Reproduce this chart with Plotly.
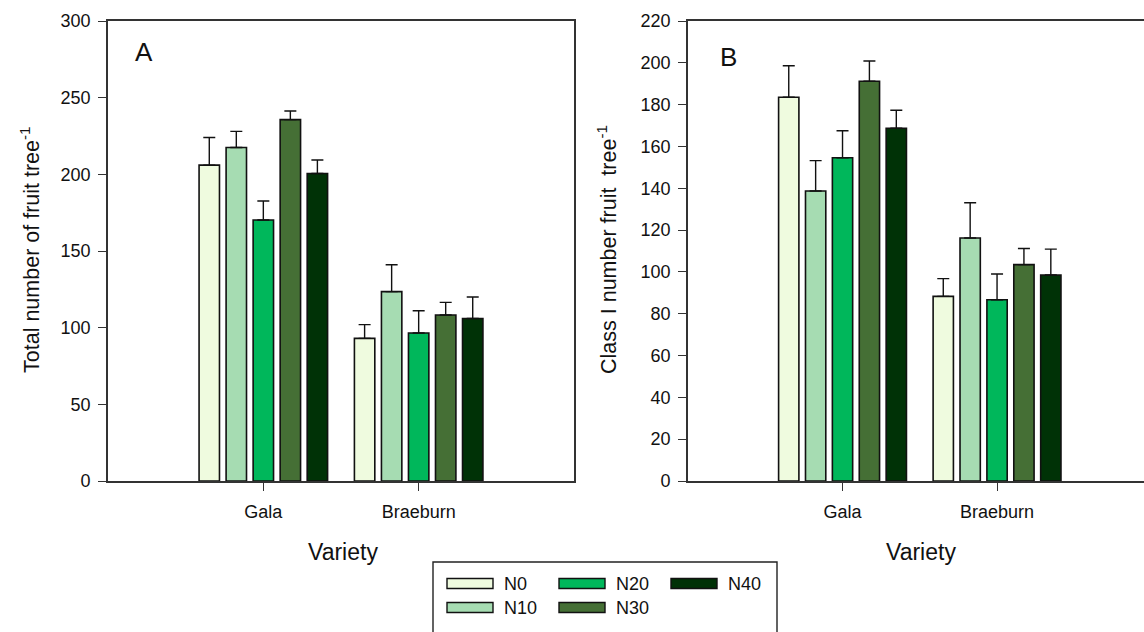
import plotly.graph_objects as go

# ---------------- data ----------------
varieties = ["Gala", "Braeburn"]
levels = ["N0", "N10", "N20", "N30", "N40"]
colors = ["#effbdf", "#a6dcb2", "#00b75b", "#456f35", "#003206"]

# Panel A: total number of fruit per tree (mean, SE) for N0..N40
total_gala = [206, 217.5, 170.2, 235.7, 200.5]
total_gala_se = [18, 10.5, 12.4, 5.6, 8.8]
total_braeburn = [93, 123.5, 96.5, 108.3, 106]
total_braeburn_se = [9, 17.5, 14.5, 8.2, 14]

# Panel B: class I fruit number per tree (mean, SE)
class1_gala = [183.5, 138.7, 154.6, 191.2, 168.7]
class1_gala_se = [15.1, 14.5, 12.9, 9.7, 8.6]
class1_braeburn = [88.3, 116.2, 86.7, 103.5, 98.5]
class1_braeburn_se = [8.5, 16.9, 12.3, 7.7, 12.4]

W, H = 1144, 632
FONT = "Liberation Sans, Arial, sans-serif"


def px(x):
    return x / W


def py(y):
    return 1 - y / H


fig = go.Figure()

panels = [
    ("x", "y", total_gala, total_gala_se, total_braeburn, total_braeburn_se),
    ("x2", "y2", class1_gala, class1_gala_se, class1_braeburn, class1_braeburn_se),
]
for xa, ya, g, gse, b, bse in panels:
    for i, lev in enumerate(levels):
        fig.add_trace(go.Bar(
            x=varieties,
            y=[g[i], b[i]],
            name=lev,
            xaxis=xa, yaxis=ya,
            marker=dict(color=colors[i], line=dict(color="#111111", width=1.6)),
            error_y=dict(type="data", symmetric=False,
                         array=[gse[i], bse[i]], arrayminus=[0, 0],
                         color="#111111", thickness=1.4, width=6),
            showlegend=False,
        ))

axis_common = dict(
    showline=True, linecolor="#333333", linewidth=1.6,
    showgrid=False, zeroline=False, automargin=False,
    ticks="outside", ticklen=8, tickwidth=1.4, tickcolor="#333333",
    tickfont=dict(family=FONT, size=18, color="#111111"),
)

fig.update_layout(
    width=W, height=H, autosize=False,
    margin=dict(l=0, r=0, t=0, b=0, pad=0, autoexpand=False),
    paper_bgcolor="white", plot_bgcolor="white",
    showlegend=False,
    barmode="group", bargap=0.13, bargroupgap=0.245,
    font=dict(family=FONT, color="#111111"),
    xaxis=dict(domain=[px(108), px(574)], anchor="y", type="category",
               range=[-1, 2], mirror=True, ticklabelstandoff=6, **axis_common),
    yaxis=dict(domain=[py(481), py(21)], anchor="x", range=[0, 300], dtick=50,
               mirror=True, ticklabelstandoff=4, **axis_common),
    xaxis2=dict(domain=[px(688), 1.0], anchor="y2", type="category",
                range=[-1, 1.951], mirror=True, ticklabelstandoff=6, **axis_common),
    yaxis2=dict(domain=[py(481), py(21)], anchor="x2", range=[0, 220], dtick=20,
                mirror=False, ticklabelstandoff=4, **axis_common),
)

annotations = [
    dict(x=px(144), y=py(52), text="A", font=dict(size=26)),
    dict(x=px(728), y=py(57), text="B", font=dict(size=26)),
    dict(x=px(343), y=py(552), text="Variety", font=dict(size=23)),
    dict(x=px(921), y=py(552), text="Variety", font=dict(size=23)),
    dict(x=px(30), y=py(250), text="Total number of fruit tree<sup>-1</sup>",
         textangle=-90, font=dict(size=21.5)),
    dict(x=px(607), y=py(250), text="Class I number fruit  tree<sup>-1</sup>",
         textangle=-90, font=dict(size=21.5)),
]
for a in annotations:
    a.update(xref="paper", yref="paper", showarrow=False,
             xanchor="center", yanchor="middle")
    a["font"].update(family=FONT, color="#111111")
    fig.add_annotation(**a)

# ---------------- legend (drawn box) ----------------
shapes = [dict(type="rect", xref="paper", yref="paper",
               x0=px(433), x1=px(777), y0=py(640), y1=py(562),
               line=dict(color="#222222", width=1.4), fillcolor="rgba(0,0,0,0)")]
col_x = [447, 559, 671]
row_y = [583.5, 607.5]
for i, lev in enumerate(levels):
    cx = col_x[i // 2]
    cy = row_y[i % 2]
    shapes.append(dict(type="rect", xref="paper", yref="paper",
                       x0=px(cx), x1=px(cx + 46), y0=py(cy + 5), y1=py(cy - 5),
                       line=dict(color="#111111", width=1.4), fillcolor=colors[i]))
    fig.add_annotation(x=px(cx + 55), y=py(cy), xref="paper", yref="paper",
                       text=lev, showarrow=False, xanchor="left", yanchor="middle",
                       font=dict(family=FONT, size=18, color="#111111"))
fig.update_layout(shapes=shapes)

fig.write_html(
    "out.html",
    config={"displayModeBar": False},
    post_script="document.body.style.margin='0';document.body.style.overflow='hidden';",
)
